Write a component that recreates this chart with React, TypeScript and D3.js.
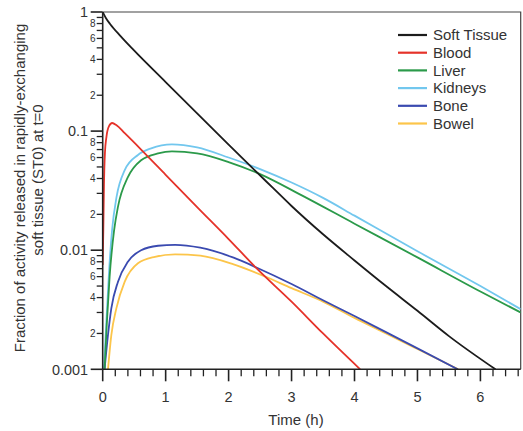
import React, { useRef, useEffect } from "react";
import * as d3 from "d3";

/* [time (h), fraction] pairs */
const SOFT_TISSUE: [number, number][] = [
  [0, 1], [0.05, 0.89], [0.12, 0.79], [0.28, 0.63], [0.49, 0.48], [1, 0.258],
  [1.5, 0.141], [2, 0.077], [2.45, 0.045], [2.7, 0.0335], [3, 0.0235],
  [3.5, 0.0136], [4, 0.0082], [4.5, 0.005], [5, 0.0031], [5.5, 0.0019],
  [6.24, 0.001],
];
const BLOOD: [number, number][] = [
  [0, 0.0075], [0.01, 0.015], [0.02, 0.035], [0.035, 0.065], [0.06, 0.09],
  [0.1, 0.11], [0.15, 0.117], [0.22, 0.112], [0.35, 0.096], [0.61, 0.07],
  [1, 0.043], [1.5, 0.023], [2, 0.0124], [2.45, 0.007], [3, 0.0037],
  [3.5, 0.002], [4.09, 0.001],
];
const LIVER: [number, number][] = [
  [0.03, 0.001], [0.065, 0.0024], [0.11, 0.006], [0.18, 0.0145], [0.243, 0.0232],
  [0.4, 0.041], [0.61, 0.057], [0.88, 0.065], [1.1, 0.0675], [1.5, 0.065],
  [2, 0.055], [2.5, 0.0435], [3.14, 0.0293], [4, 0.0167], [5, 0.0087],
  [6, 0.0045], [6.64, 0.003],
];
const KIDNEYS: [number, number][] = [
  [0.02, 0.001], [0.06, 0.0026], [0.1, 0.0065], [0.15, 0.015], [0.22, 0.028],
  [0.35, 0.047], [0.56, 0.063], [0.77, 0.0717], [1.1, 0.0775], [1.5, 0.073],
  [2, 0.06], [2.5, 0.048], [3, 0.037], [3.5, 0.0275], [4, 0.0195],
  [5, 0.0098], [6, 0.005], [6.64, 0.0032],
];
const BONE: [number, number][] = [
  [0.03, 0.001], [0.084, 0.00194], [0.137, 0.00325], [0.243, 0.00544],
  [0.4, 0.008], [0.61, 0.01], [0.88, 0.0109], [1.15, 0.0111], [1.55, 0.0105],
  [2.08, 0.00865], [2.45, 0.00713], [3, 0.0052], [3.5, 0.0038], [4, 0.0028],
  [4.5, 0.00205], [5, 0.0015], [5.64, 0.001],
];
const BOWEL: [number, number][] = [
  [0.084, 0.001], [0.137, 0.00194], [0.217, 0.00325], [0.35, 0.00544],
  [0.56, 0.00776], [0.83, 0.0088], [1.15, 0.00924], [1.55, 0.009],
  [2.08, 0.0076], [2.55, 0.0061], [3, 0.0048], [3.5, 0.0037], [4, 0.0027],
  [4.5, 0.002], [5, 0.00148], [5.65, 0.001],
];

const SERIES = [
  { name: "Soft Tissue", data: SOFT_TISSUE, color: "#1c1c1c" },
  { name: "Blood", data: BLOOD, color: "#e5332a" },
  { name: "Liver", data: LIVER, color: "#2b9a4a" },
  { name: "Kidneys", data: KIDNEYS, color: "#72c7ee" },
  { name: "Bone", data: BONE, color: "#3a4ab0" },
  { name: "Bowel", data: BOWEL, color: "#fcc54a" },
];

const X_TICKS = [0, 1, 2, 3, 4, 5, 6];
const Y_MAJOR = [0.001, 0.01, 0.1, 1];
const Y_MAJOR_LABELS = ["0.001", "0.01", "0.1", "1"];
const Y_MINOR_MULT = [2, 3, 4, 5, 6, 7, 8, 9];

export default function App() {
  const svgRef = useRef<SVGSVGElement | null>(null);

  useEffect(() => {
    const W = 523;
    const H = 431;
    const L = 102.7, R = 520.7, T = 12, B = 369.3;
    const font = "'Liberation Sans', Arial, sans-serif";
    const txt = "#333";

    const x = d3.scaleLinear().domain([0, 6.64]).range([L, R]);
    const y = d3.scaleLog().domain([0.001, 1]).range([B, T]);

    const svg = d3.select(svgRef.current!)
      .attr("width", W).attr("height", H)
      .style("font-family", font)
      .style("background", "#fff");
    svg.selectAll("*").remove();

    svg.append("clipPath").attr("id", "plot")
      .append("rect").attr("x", L).attr("y", T).attr("width", R - L).attr("height", B - T);

    /* ---- frame ---- */
    svg.append("path")
      .attr("d", `M${L},${T}H${R}V${B}`)
      .attr("fill", "none").attr("stroke", "#444").attr("stroke-width", 1.2);

    /* ---- curves ---- */
    const line = d3.line<[number, number]>()
      .x((d) => x(d[0]))
      .y((d) => y(d[1]))
      .curve(d3.curveMonotoneX);

    const g = svg.append("g").attr("clip-path", "url(#plot)");
    SERIES.slice().reverse().forEach((s) => {
      g.append("path")
        .datum(s.data)
        .attr("d", line)
        .attr("fill", "none")
        .attr("stroke", s.color)
        .attr("stroke-width", 1.8)
        .attr("stroke-linejoin", "round");
    });

    /* ---- x axis ---- */
    const xa = svg.append("g");
    xa.append("line").attr("x1", L).attr("x2", R).attr("y1", B).attr("y2", B)
      .attr("stroke", "#222").attr("stroke-width", 1.6);
    d3.range(0, 34).map((i) => i * 0.2).filter((t) => t <= 6.64).forEach((t, i) => {
      const major = i % 5 === 0;
      xa.append("line")
        .attr("x1", x(t)).attr("x2", x(t))
        .attr("y1", B).attr("y2", B + (major ? 12 : 7))
        .attr("stroke", "#222").attr("stroke-width", major ? 1.6 : 1.3);
    });
    xa.selectAll("text.tick").data(X_TICKS).enter().append("text")
      .attr("x", (d) => x(d)).attr("y", 402)
      .attr("text-anchor", "middle").attr("fill", txt)
      .style("font-size", "14.5px")
      .text((d) => String(d));
    svg.append("text")
      .attr("x", 296).attr("y", 425)
      .attr("text-anchor", "middle").attr("fill", txt)
      .style("font-size", "15px")
      .text("Time (h)");

    /* ---- y axis ---- */
    const ya = svg.append("g");
    ya.append("line").attr("x1", L).attr("x2", L).attr("y1", T).attr("y2", B)
      .attr("stroke", "#222").attr("stroke-width", 1.6);
    Y_MAJOR.forEach((v, i) => {
      ya.append("line").attr("x1", L - 12).attr("x2", L).attr("y1", y(v)).attr("y2", y(v))
        .attr("stroke", "#222").attr("stroke-width", 1.6);
      ya.append("text")
        .attr("x", 88).attr("y", y(v) + 5.2)
        .attr("text-anchor", "end").attr("fill", txt)
        .style("font-size", "14.4px")
        .text(Y_MAJOR_LABELS[i]);
    });
    Y_MAJOR.slice(0, 3).forEach((d) => {
      Y_MINOR_MULT.forEach((m) => {
        const v = d * m;
        ya.append("line").attr("x1", L - 6).attr("x2", L).attr("y1", y(v)).attr("y2", y(v))
          .attr("stroke", "#222").attr("stroke-width", 1.3);
        if (m % 2 === 0) {
          ya.append("text")
            .attr("x", 95.5).attr("y", y(v) + 3.5)
            .attr("text-anchor", "end").attr("fill", txt)
            .style("font-size", "10px")
            .text(String(m));
        }
      });
    });

    /* ---- y title ---- */
    const yt = svg.append("g").attr("transform", "translate(0,188) rotate(-90)");
    yt.append("text").attr("x", 0).attr("y", 25)
      .attr("text-anchor", "middle").attr("fill", txt)
      .style("font-size", "15px")
      .text("Fraction of activity released in rapidly-exchanging");
    yt.append("text").attr("x", 8).attr("y", 43)
      .attr("text-anchor", "middle").attr("fill", txt)
      .style("font-size", "15px")
      .text("soft tissue (ST0) at t=0");

    /* ---- legend ---- */
    const lg = svg.append("g");
    SERIES.forEach((s, i) => {
      const ly = 35 + i * 17.7;
      lg.append("line").attr("x1", 398).attr("x2", 427).attr("y1", ly).attr("y2", ly)
        .attr("stroke", s.color).attr("stroke-width", 2.2);
      lg.append("text").attr("x", 433).attr("y", ly + 5.3)
        .attr("fill", txt).style("font-size", "15px")
        .text(s.name);
    });
  }, []);

  return (
    <svg ref={svgRef} style={{ position: "absolute", left: 0, top: 0 }} />
  );
}
